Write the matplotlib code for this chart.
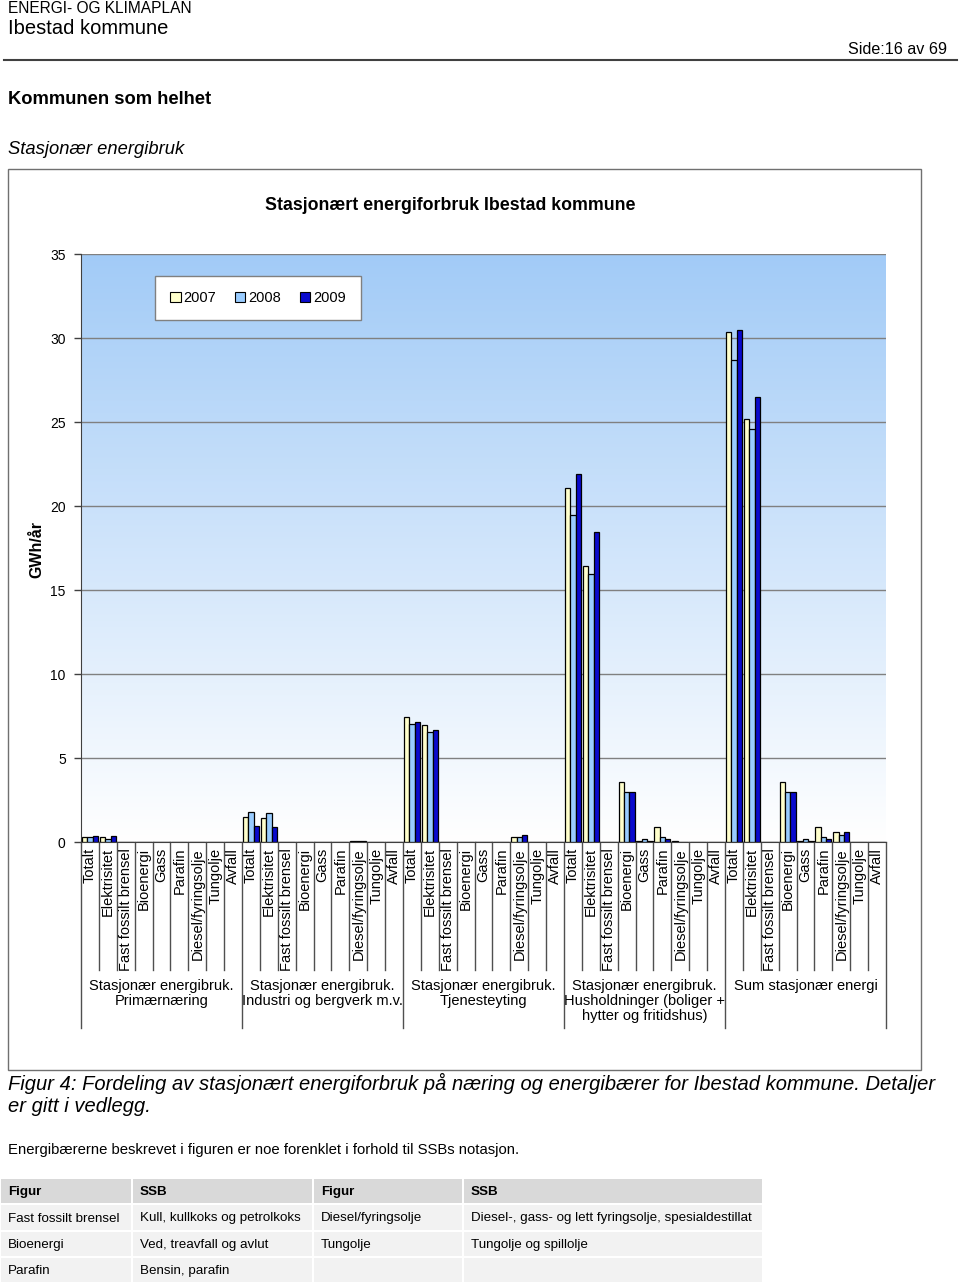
import numpy as np
import matplotlib.pyplot as plt
import matplotlib.transforms as mtransforms
from matplotlib.colors import LinearSegmentedColormap
from matplotlib.patches import Rectangle
from matplotlib.lines import Line2D

W, H = 960, 1283

# --- data (GWh/år) ---
carriers = ['Totalt', 'Elektrisitet', 'Fast fossilt brensel', 'Bioenergi', 'Gass',
            'Parafin', 'Diesel/fyringsolje', 'Tungolje', 'Avfall']
sectors = ['Stasjonær energibruk.\nPrimærnæring',
           'Stasjonær energibruk.\nIndustri og bergverk m.v.',
           'Stasjonær energibruk.\nTjenesteyting',
           'Stasjonær energibruk.\nHusholdninger (boliger +\nhytter og fritidshus)',
           'Sum stasjonær energi']
years = ['2007', '2008', '2009']

v2007 = [0.30, 0.30, 0, 0, 0, 0, 0, 0, 0,
         1.50, 1.40, 0, 0, 0, 0, 0.05, 0, 0,
         7.45, 6.95, 0, 0, 0, 0, 0.32, 0, 0,
         21.05, 16.40, 0, 3.55, 0.08, 0.87, 0.05, 0, 0,
         30.37, 25.15, 0, 3.55, 0.08, 0.87, 0.60, 0, 0]
v2008 = [0.30, 0.20, 0, 0, 0, 0, 0, 0, 0,
         1.80, 1.70, 0, 0, 0, 0, 0.05, 0, 0,
         7.00, 6.55, 0, 0, 0, 0, 0.32, 0, 0,
         19.45, 15.95, 0, 2.95, 0.15, 0.32, 0.0, 0, 0,
         28.70, 24.60, 0, 2.95, 0.15, 0.32, 0.42, 0, 0]
v2009 = [0.38, 0.38, 0, 0, 0, 0, 0, 0, 0,
         0.95, 0.87, 0, 0, 0, 0, 0.05, 0, 0,
         7.15, 6.67, 0, 0, 0, 0, 0.42, 0, 0,
         21.90, 18.45, 0, 3.00, 0.08, 0.15, 0.02, 0, 0,
         30.50, 26.50, 0, 3.00, 0.08, 0.15, 0.60, 0, 0]

table_header = ['Figur', 'SSB', 'Figur', 'SSB']
table_rows = [['Fast fossilt brensel', 'Kull, kullkoks og petrolkoks', 'Diesel/fyringsolje',
               'Diesel-, gass- og lett fyringsolje, spesialdestillat'],
              ['Bioenergi', 'Ved, treavfall og avlut', 'Tungolje', 'Tungolje og spillolje'],
              ['Parafin', 'Bensin, parafin', '', '']]

colors = ['#FFFFCC', '#99CCFF', '#0A0ACD']
plt.rcParams['font.family'] = ['Liberation Sans', 'DejaVu Sans']


def fx(x):
    return x / W


def fy(y):
    return 1 - y / H


fig = plt.figure(figsize=(W / 100, H / 100), dpi=100)
fig.patch.set_facecolor('white')

# page header
fig.text(fx(8), fy(1), 'ENERGI- OG KLIMAPLAN', fontsize=11.2, va='top')
fig.text(fx(8), fy(28), 'Ibestad kommune', fontsize=14.5, va='center')
fig.text(fx(947), fy(49), 'Side:16 av 69', fontsize=11.6, va='center', ha='right')
fig.add_artist(Line2D([fx(4), fx(957)], [fy(60), fy(60)], color='#404040', lw=1.5))
fig.text(fx(8), fy(100), 'Kommunen som helhet', fontsize=13.2, weight='bold', va='center')
fig.text(fx(8), fy(150), 'Stasjonær energibruk', fontsize=13.2, style='italic', va='center')

# chart frame
fig.add_artist(Rectangle((fx(8), fy(1070)), fx(913), (1070 - 169) / H, fill=False,
                         edgecolor='#707070', lw=1.0, transform=fig.transFigure))
fig.text(fx(450), fy(205), 'Stasjonært energiforbruk Ibestad kommune', fontsize=12.8,
         weight='bold', ha='center', va='center')

ax = fig.add_axes([fx(81), fy(842), (886 - 81) / W, (842 - 254) / H])
n = len(carriers) * len(sectors)
x = np.arange(n)

# plot area: light blue at top fading to white at the bottom
grad = LinearSegmentedColormap.from_list('bg', ['#FFFFFF', '#A2CBF7'])
ax.imshow(np.linspace(0, 1, 256).reshape(-1, 1), cmap=grad, origin='lower',
          extent=[-0.5, n - 0.5, 0, 35], aspect='auto', zorder=0)

bw = 0.3
for i, vals in enumerate([v2007, v2008, v2009]):
    ax.bar(x + (i - 1) * bw, vals, width=bw, color=colors[i], edgecolor='black',
           linewidth=0.9, zorder=3 + i)

ax.set_xlim(-0.5, n - 0.5)
ax.set_ylim(0, 35)
ax.set_yticks(range(0, 36, 5))
ax.set_xticks([])
ax.tick_params(axis='y', labelsize=10, length=5, width=1, color='#404040', pad=6)
ax.yaxis.grid(True, color='#808080', lw=1)
for g in ax.get_ygridlines():
    g.set_zorder(1)
for s in ['top', 'right']:
    ax.spines[s].set_visible(False)
ax.spines['left'].set_color('#404040')
ax.spines['bottom'].set_color('#404040')
ax.spines['bottom'].set_zorder(10)

fig.text(fx(37), fy(550), 'GWh/år', rotation=90, fontsize=11.5, weight='bold',
         ha='center', va='center')

handles = [Rectangle((0, 0), 1, 1, facecolor=c, edgecolor='black', lw=0.8) for c in colors]
leg = ax.legend(handles, years, ncol=3, loc='upper left', bbox_to_anchor=(0.092, 0.963),
                borderaxespad=0, fancybox=False, framealpha=1, edgecolor='#808080',
                fontsize=10.5, handlelength=0.7, handleheight=0.7, handletextpad=0.2,
                columnspacing=1.3, borderpad=1.05)
leg.get_frame().set_linewidth(1.0)
leg.set_zorder(20)

# multi-level category axis
blend = mtransforms.blended_transform_factory(ax.transData, fig.transFigure)
for k in range(n + 1):
    bottom = 1028 if k % len(carriers) == 0 else 970
    ax.add_line(Line2D([k - 0.5, k - 0.5], [fy(842), fy(bottom)], color='#505050',
                       lw=1.0, transform=blend, clip_on=False))
for k in range(n):
    ax.text(k, fy(848), carriers[k % len(carriers)], rotation=90, fontsize=10.5,
            ha='center', va='top', transform=blend)
for j, lab in enumerate(sectors):
    cx = j * len(carriers) + (len(carriers) - 1) / 2
    ax.text(cx, fy(979), lab, fontsize=10.5, ha='center', va='top', transform=blend,
            linespacing=1.1)

# caption and note
fig.text(fx(8), fy(1083), 'Figur 4: Fordeling av stasjonært energiforbruk på næring og '
         'energibærer for Ibestad kommune. Detaljer', fontsize=14.5,
         style='italic', va='center')
fig.text(fx(8), fy(1107), 'er gitt i vedlegg.', fontsize=14.5, style='italic', va='center')
fig.text(fx(8), fy(1150), 'Energibærerne beskrevet i figuren er noe forenklet i forhold '
         'til SSBs notasjon.', fontsize=10.7, va='center')

# table
col_x = [0, 132, 313, 463, 763]
row_y = [1178, 1204, 1231, 1257, 1283]
for r in range(4):
    for c in range(4):
        x0, x1 = col_x[c], col_x[c + 1]
        y0, y1 = row_y[r], row_y[r + 1]
        fig.add_artist(Rectangle((fx(x0 + 1), fy(y1 - 1)), (x1 - x0 - 2) / W,
                                 (y1 - y0 - 2) / H,
                                 facecolor='#D9D9D9' if r == 0 else '#F2F2F2',
                                 edgecolor='none', transform=fig.transFigure))
        txt = table_header[c] if r == 0 else table_rows[r - 1][c]
        fig.text(fx(x0 + 8), fy((y0 + y1) / 2 + 1), txt, fontsize=9.6,
                 weight='bold' if r == 0 else 'normal', va='center')

fig.savefig('out.png', dpi=100)
